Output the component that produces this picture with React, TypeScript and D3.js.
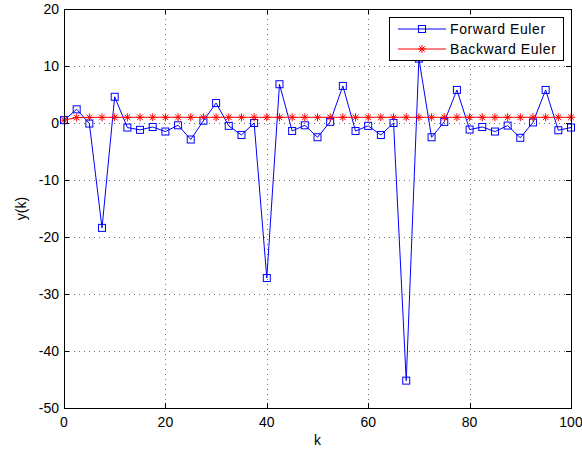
import React from "react";
import * as d3 from "d3";

const kValues: number[] = d3.range(0, 100.001, 2.5);
const forwardEuler: number[] = [
  0.5, 2.4, -0.1, -18.4, 4.6, -0.8, -1.2, -0.7, -1.5, -0.4,
  -2.9, 0.4, 3.5, -0.5, -2.1, 0.0, -27.2, 6.8, -1.4, -0.4,
  -2.5, 0.2, 6.5, -1.4, -0.5, -2.1, 0.0, -45.2, 11.3, -2.5,
  0.2, 5.8, -1.15, -0.7, -1.5, -0.45, -2.6, 0.1, 5.8, -1.27, -0.8,
];
const backwardEuler: number[] = [
  0.5, 0.95, 0.98, 0.99, 1, 1, 1, 1, 1, 1,
  1, 1, 1, 1, 1, 1, 1, 1, 1, 1,
  1, 1, 1, 1, 1, 1, 1, 1, 1, 1,
  1, 1, 1, 1, 1, 1, 1, 1, 1, 1, 1,
];
const xTicks: number[] = [0, 20, 40, 60, 80, 100];
const yTicks: number[] = [-50, -40, -30, -20, -10, 0, 10, 20];
const seriesNames: string[] = ["Forward Euler", "Backward Euler"];

const W = 582;
const H = 451;
const L = 64, R = 571, T = 9, B = 408;
const FONT = "'Liberation Sans', Arial, sans-serif";

function Star({ x, y, s, color }: { x: number; y: number; s: number; color: string }) {
  const d = s * 0.7;
  return (
    <g stroke={color} strokeWidth={1}>
      <line x1={x - s} y1={y} x2={x + s} y2={y} />
      <line x1={x} y1={y - s} x2={x} y2={y + s} />
      <line x1={x - d} y1={y - d} x2={x + d} y2={y + d} />
      <line x1={x - d} y1={y + d} x2={x + d} y2={y - d} />
    </g>
  );
}

export default function App() {
  const x = d3.scaleLinear().domain([0, 100]).range([L, R]);
  const y = d3.scaleLinear().domain([-50, 20]).range([B, T]);
  const line = d3
    .line<number>()
    .x((_, i) => x(kValues[i]))
    .y((v) => y(v));

  const legX = 389, legY = 17, legW = 174, legH = 43;

  return (
    <svg width={W} height={H} style={{ position: "absolute", left: 0, top: 0 }}>
      <rect x={0} y={0} width={W} height={H} fill="#fff" />
      {/* grid */}
      <g stroke="#000" strokeOpacity={0.55} strokeWidth={1} strokeDasharray="1,4">
        {xTicks.slice(1, -1).map((t) => (
          <line key={"gx" + t} x1={Math.round(x(t)) + 0.5} x2={Math.round(x(t)) + 0.5} y1={T} y2={B} />
        ))}
        {yTicks.slice(1, -1).map((t) => (
          <line key={"gy" + t} x1={L} x2={R} y1={Math.round(y(t)) + 0.5} y2={Math.round(y(t)) + 0.5} />
        ))}
      </g>
      {/* ticks */}
      <g stroke="#000" strokeWidth={1}>
        {xTicks.map((t) => (
          <g key={"tx" + t}>
            <line x1={Math.round(x(t)) + 0.5} x2={Math.round(x(t)) + 0.5} y1={B} y2={B - 5} />
            <line x1={Math.round(x(t)) + 0.5} x2={Math.round(x(t)) + 0.5} y1={T} y2={T + 5} />
          </g>
        ))}
        {yTicks.map((t) => (
          <g key={"ty" + t}>
            <line x1={L} x2={L + 5} y1={Math.round(y(t)) + 0.5} y2={Math.round(y(t)) + 0.5} />
            <line x1={R} x2={R - 5} y1={Math.round(y(t)) + 0.5} y2={Math.round(y(t)) + 0.5} />
          </g>
        ))}
      </g>
      {/* series */}
      <path d={line(forwardEuler) || ""} fill="none" stroke="#0000ff" strokeWidth={1} />
      {forwardEuler.map((v, i) => (
        <rect key={"f" + i} x={x(kValues[i]) - 3.5} y={y(v) - 3.5} width={7} height={7} fill="none" stroke="#0000ff" strokeWidth={1} />
      ))}
      <path d={line(backwardEuler) || ""} fill="none" stroke="#ff0000" strokeWidth={1} />
      {backwardEuler.map((v, i) => (
        <Star key={"b" + i} x={x(kValues[i])} y={y(v)} s={4} color="#ff0000" />
      ))}
      {/* axes box */}
      <rect x={L + 0.5} y={T + 0.5} width={R - L} height={B - T} fill="none" stroke="#000" strokeWidth={1} />
      {/* tick labels */}
      <g fontFamily={FONT} fontSize={14} fill="#000">
        {xTicks.map((t) => (
          <text key={"lx" + t} x={x(t)} y={B + 19} textAnchor="middle">{t}</text>
        ))}
        {yTicks.map((t) => (
          <text key={"ly" + t} x={L - 5} y={y(t) + 5} textAnchor="end">{t}</text>
        ))}
        <text x={(L + R) / 2} y={B + 37} textAnchor="middle">k</text>
        <text transform={`translate(26,${(T + B) / 2}) rotate(-90)`} textAnchor="middle">y(k)</text>
      </g>
      {/* legend */}
      <g fontFamily={FONT} fontSize={14} letterSpacing={0.6}>
        <rect x={legX + 0.5} y={legY + 0.5} width={legW} height={legH} fill="#fff" stroke="#000" strokeWidth={1} />
        <line x1={legX + 9} x2={legX + 57} y1={legY + 12} y2={legY + 12} stroke="#0000ff" />
        <rect x={legX + 29.5} y={legY + 8.5} width={7} height={7} fill="none" stroke="#0000ff" />
        <text x={legX + 61} y={legY + 17}>{seriesNames[0]}</text>
        <line x1={legX + 9} x2={legX + 57} y1={legY + 32} y2={legY + 32} stroke="#ff0000" />
        <Star x={legX + 33} y={legY + 32} s={4} color="#ff0000" />
        <text x={legX + 61} y={legY + 37}>{seriesNames[1]}</text>
      </g>
    </svg>
  );
}
